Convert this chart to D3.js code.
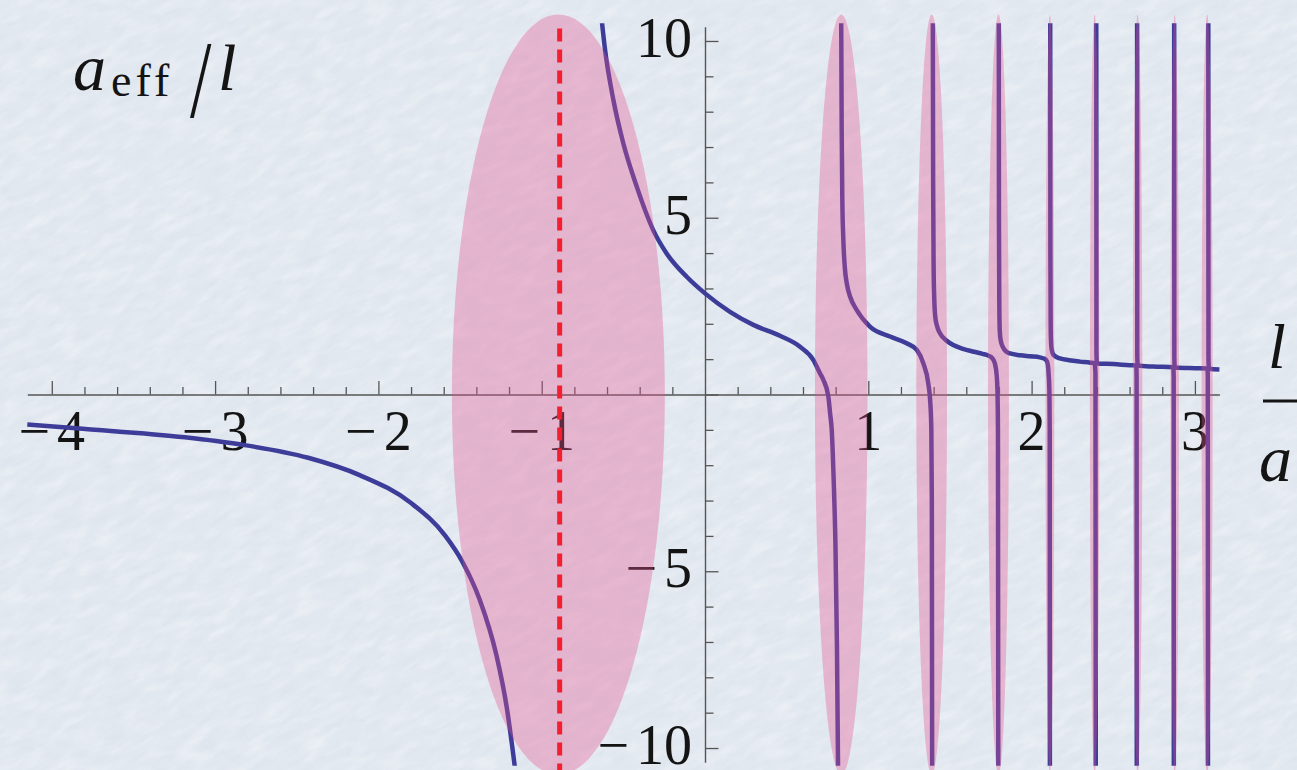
<!DOCTYPE html>
<html>
<head>
<meta charset="utf-8">
<script src="https://cdn.jsdelivr.net/npm/d3@7"></script>
<style>
  html, body { margin: 0; padding: 0; background: #e2e8f0; overflow: hidden; }
  svg { display: block; }
</style>
</head>
<body>
<svg id="chart" width="1297" height="770"></svg>
<script>
// ---- tick marks and labels ----
const xMajorTicks = [-4, -3, -2, -1, 1, 2, 3];
const xTickLabels = ["−4", "−3", "−2", "−1", "1", "2", "3"];
const yMajorTicks = [-10, -5, 5, 10];
const yTickLabels = ["−10", "−5", "5", "10"];

// ---- a_eff / l versus l / a, one array per branch between poles ----
const branch1 = [[-4.15,-0.85],[-3.81,-0.97],[-3.185,-1.21],[-2.85,-1.41],[-2.43,-1.79],[-2.115,-2.28],
  [-1.80,-3.07],[-1.59,-4.0],[-1.486,-4.73],[-1.38,-5.8],[-1.276,-7.4],[-1.214,-8.85],[-1.16,-10.7]];
const branch2 = [[-0.635,10.7],[-0.612,9.75],[-0.561,8.33],[-0.50,7.1],[-0.418,5.88],[-0.317,4.65],
  [-0.235,3.99],[-0.112,3.33],[0,2.86],[0.153,2.34],[0.296,1.97],[0.459,1.66],[0.582,1.35],[0.663,0.98],
  [0.704,0.60],[0.725,0.41],[0.755,-0.05],[0.766,-0.53],[0.776,-1.0],[0.788,-2.42],[0.799,-4.3],
  [0.808,-7.1],[0.815,-10.7]];
const branch3 = [[0.834,10.7],[0.837,7.5],[0.841,5.5],[0.847,4.4],[0.856,3.6],[0.868,3.15],[0.89,2.75],
  [0.929,2.39],[1.01,1.92],[1.133,1.64],[1.235,1.45],[1.297,1.26],[1.337,0.88],[1.367,0.32],[1.38,-0.25],
  [1.386,-1.0],[1.389,-3.0],[1.391,-10.7]];
const branch4 = [[1.395,10.7],[1.397,6.0],[1.400,3.6],[1.404,2.7],[1.41,2.2],[1.42,1.95],[1.439,1.73],
  [1.48,1.52],[1.52,1.40],[1.58,1.29],[1.646,1.21],[1.70,1.15],[1.735,1.10],[1.76,1.02],[1.776,0.86],
  [1.786,0.55],[1.791,0.1],[1.794,-1.0],[1.796,-10.7]];
const branch5 = [[1.799,10.7],[1.800,5.0],[1.802,2.7],[1.805,1.8],[1.81,1.55],[1.825,1.33],[1.848,1.2],
  [1.868,1.16],[1.93,1.11],[1.99,1.08],[2.05,1.05],[2.08,1.01],[2.095,0.93],[2.104,0.6],[2.109,0.1],
  [2.111,-1.0],[2.112,-10.7]];
const branch6 = [[2.114,10.7],[2.115,4.0],[2.117,1.8],[2.122,1.3],[2.135,1.12],[2.174,1.02],[2.23,0.97],
  [2.296,0.93],[2.36,0.90],[2.386,0.88],[2.391,0.6],[2.393,-10.7]];
const branch7 = [[2.396,10.7],[2.397,1.2],[2.40,0.88],[2.50,0.86],[2.60,0.83],[2.641,0.82],[2.643,0.5],[2.644,-10.7]];
const branch8 = [[2.646,10.7],[2.647,1.1],[2.65,0.82],[2.745,0.79],[2.868,0.77],[2.870,0.5],[2.871,-10.7]];
const branch9 = [[2.873,10.7],[2.874,1.0],[2.877,0.765],[3.0,0.745],[3.077,0.735],[3.079,0.5],[3.080,-10.7]];
const branch10 = [[3.082,10.7],[3.083,1.0],[3.086,0.73],[3.15,0.71]];
const branches = [branch1, branch2, branch3, branch4, branch5, branch6, branch7, branch8, branch9, branch10];

// ---- shaded resonance regions (centre and half-width in l/a, half-height in a_eff/l) ----
const resonanceCenters = [-0.898, 0.834, 1.388, 1.797, 2.112, 2.386, 2.649, 2.876, 3.075];
const resonanceHalfWidths = [0.652, 0.161, 0.094, 0.064, 0.027, 0.029, 0.029, 0.026, 0.034];
const resonanceHalfHeight = 10.75;

// ---- position of the dashed marker ----
const markerX = -0.89;

// ---------------------------------------------------------------
const W = 1297, H = 770;
const svg = d3.select("#chart");
const serif = "'Liberation Serif','Times New Roman',Times,serif";

const x = d3.scaleLinear().domain([-4.15, 3.15]).range([27.3, 1219.4]);
const y = d3.scaleLinear().domain([-10.5, 10.5]).range([765.7, 23.3]);

// paper-like background
const defs = svg.append("defs");
const fLight = defs.append("filter").attr("id", "grainLight")
  .attr("x", 0).attr("y", 0).attr("width", "100%").attr("height", "100%");
fLight.append("feTurbulence").attr("type", "fractalNoise")
  .attr("baseFrequency", "0.035 0.10").attr("numOctaves", 4).attr("seed", 7);
fLight.append("feColorMatrix").attr("type", "matrix")
  .attr("values", "0 0 0 0 1  0 0 0 0 1  0 0 0 0 1  1.8 0 0 0 -0.75");
const fDark = defs.append("filter").attr("id", "grainDark")
  .attr("x", 0).attr("y", 0).attr("width", "100%").attr("height", "100%");
fDark.append("feTurbulence").attr("type", "fractalNoise")
  .attr("baseFrequency", "0.05 0.14").attr("numOctaves", 4).attr("seed", 23);
fDark.append("feColorMatrix").attr("type", "matrix")
  .attr("values", "0 0 0 0 0.6  0 0 0 0 0.65  0 0 0 0 0.72  0 1.8 0 0 -0.8");

svg.append("rect").attr("width", W).attr("height", H).attr("fill", "#e2e8f0");
const paper = svg.append("g").attr("transform", `rotate(-28 ${W/2} ${H/2})`);
paper.append("rect").attr("x", -400).attr("y", -700).attr("width", W + 800).attr("height", H + 1400)
  .attr("filter", "url(#grainLight)").attr("opacity", 0.4);
paper.append("rect").attr("x", -400).attr("y", -700).attr("width", W + 800).attr("height", H + 1400)
  .attr("filter", "url(#grainDark)").attr("opacity", 0.22);

// ---- axes ----
const axisColor = "#555";
const axes = svg.append("g");

const xMinor = d3.range(-20, 16).map(k => k / 5).filter(v => Math.abs(v - Math.round(v)) > 1e-9 && v >= -4.15 && v <= 3.15);
const yMinor = d3.range(-10, 11).filter(v => v % 5 !== 0);

function styleAxis(g) {
  g.select(".domain").attr("stroke", axisColor).attr("stroke-width", 1.4);
  g.selectAll(".tick line").attr("stroke", axisColor).attr("stroke-width", 1.3);
  g.selectAll(".tick text").remove();
}

const xAxisY = y(0);
axes.append("g").attr("transform", `translate(0,${xAxisY})`)
  .call(d3.axisTop(x).tickValues(xMinor).tickSize(7.5).tickSizeOuter(0).tickFormat(""))
  .call(styleAxis);
axes.append("g").attr("transform", `translate(0,${xAxisY})`)
  .call(d3.axisTop(x).tickValues(xMajorTicks).tickSize(13.5).tickSizeOuter(0).tickFormat(""))
  .call(g => { styleAxis(g); g.select(".domain").remove(); });

const yAxisScale = y.copy().domain([-10.4, 10.4]).range([y(-10.4), y(10.4)]);
axes.append("g").attr("transform", `translate(${x(0)},0)`)
  .call(d3.axisRight(yAxisScale).tickValues(yMinor).tickSize(8.5).tickSizeOuter(0).tickFormat(""))
  .call(styleAxis);
axes.append("g").attr("transform", `translate(${x(0)},0)`)
  .call(d3.axisRight(yAxisScale).tickValues([-10, -5, 0, 5, 10]).tickSize(13.5).tickSizeOuter(0).tickFormat(""))
  .call(g => { styleAxis(g); g.select(".domain").remove(); });

// ---- tick labels ----
function signedLabel(sel, label) {
  if (label[0] === "−") {
    sel.append("tspan").text("−");
    sel.append("tspan").attr("dx", 7).text(label.slice(1));
  } else {
    sel.text(label);
  }
}
const labels = svg.append("g").attr("font-family", serif).attr("font-size", 56).attr("fill", "#141414");
xMajorTicks.forEach((v, i) => {
  const t = labels.append("text").attr("x", x(v)).attr("y", 450).attr("text-anchor", "middle");
  signedLabel(t, xTickLabels[i]);
});
yMajorTicks.forEach((v, i) => {
  const t = labels.append("text").attr("x", 692).attr("y", y(v) + 16).attr("text-anchor", "end");
  signedLabel(t, yTickLabels[i]);
});

// ---- axis titles ----
const titles = svg.append("g").attr("font-family", serif).attr("fill", "#141414");
titles.append("text").attr("x", 73).attr("y", 90).attr("font-size", 66).attr("font-style", "italic").text("a");
titles.append("text").attr("x", 111).attr("y", 96).attr("font-size", 46).attr("letter-spacing", 4).text("eff");
titles.append("text").attr("transform", "translate(190,117) scale(0.7,1)").attr("font-size", 110).text("/");
titles.append("text").attr("x", 218).attr("y", 90).attr("font-size", 66).attr("font-style", "italic").text("l");

titles.append("text").attr("x", 1268).attr("y", 368).attr("font-size", 64).attr("font-style", "italic").text("l");
titles.append("line").attr("x1", 1263).attr("x2", 1310).attr("y1", 401).attr("y2", 401)
  .attr("stroke", "#141414").attr("stroke-width", 3);
titles.append("text").attr("x", 1259).attr("y", 481).attr("font-size", 66).attr("font-style", "italic").text("a");

// ---- curve ----
defs.append("clipPath").attr("id", "plotClip").append("rect")
  .attr("x", x(-4.15) - 2).attr("y", y(10.5)).attr("width", x(3.15) - x(-4.15) + 4).attr("height", y(-10.5) - y(10.5));

const line = d3.line().x(d => x(d[0])).y(d => y(d[1])).curve(d3.curveMonotoneX);
svg.append("g").attr("clip-path", "url(#plotClip)")
  .selectAll("path").data(branches).join("path")
  .attr("d", line)
  .attr("fill", "none")
  .attr("stroke", "#3d3d99")
  .attr("stroke-width", 4.5)
  .attr("stroke-linejoin", "round");

// ---- resonance shading (translucent, laid over the plot) ----
svg.append("g").selectAll("ellipse").data(resonanceCenters).join("ellipse")
  .attr("cx", d => x(d))
  .attr("cy", y(0))
  .attr("rx", (d, i) => x(d + resonanceHalfWidths[i]) - x(d))
  .attr("ry", y(0) - y(resonanceHalfHeight))
  .attr("fill", "rgb(229,84,142)")
  .attr("fill-opacity", 0.35);

// ---- dashed marker ----
svg.append("line")
  .attr("x1", x(markerX)).attr("x2", x(markerX))
  .attr("y1", y(10.35)).attr("y2", H)
  .attr("stroke", "#f41f2e")
  .attr("stroke-width", 5)
  .attr("stroke-dasharray", "13,8");
</script>
</body>
</html>
